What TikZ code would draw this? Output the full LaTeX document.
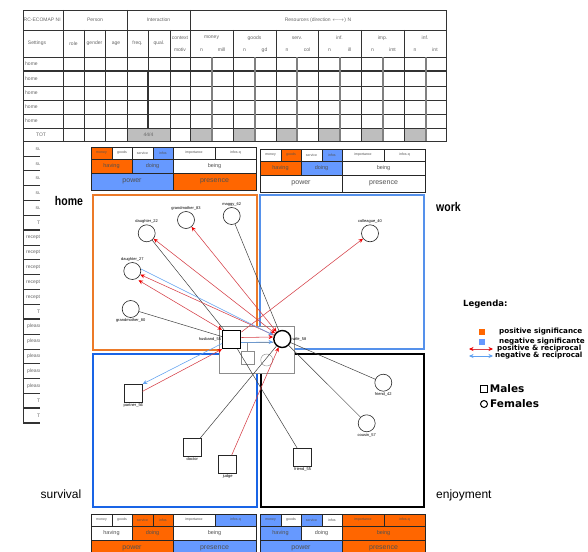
\documentclass[tikz,border=0pt]{standalone}
\usepackage{fontspec}
\usepackage{graphicx}
\setmainfont{Liberation Sans}
\newfontfamily\legendfont{DejaVu Sans}
\usetikzlibrary{arrows.meta,positioning}

\definecolor{sigorange}{RGB}{255,102,0}
\definecolor{sigblue}{RGB}{102,153,255}
\definecolor{homeorange}{RGB}{236,122,40}
\definecolor{workblue}{RGB}{85,145,235}
\definecolor{survblue}{RGB}{25,100,230}
\definecolor{relred}{RGB}{214,64,72}
\definecolor{tipred}{RGB}{240,0,0}
\definecolor{relblue}{RGB}{95,160,240}
\definecolor{totgray}{RGB}{190,190,190}
\definecolor{celltext}{RGB}{80,80,80}

\tikzset{
  tabline/.style={draw=black!80, line width=0.5pt},
  tabtxt/.style={font=\fontsize{5}{5}\selectfont, text=black!60, inner sep=0pt},
  boxline/.style={draw=black!85, line width=1pt},
  celltxt/.style={font=\fontsize{3.5}{4}\selectfont, text=celltext, inner sep=0pt},
  celltxtb/.style={font=\fontsize{5.5}{6}\selectfont, text=celltext, inner sep=0pt},
  celltxtc/.style={font=\fontsize{7}{7}\selectfont, text=celltext, inner sep=0pt},
  female/.style={circle, draw=black!85, line width=0.6pt, minimum size=17pt, inner sep=0pt},
  male/.style={rectangle, draw=black!85, line width=0.6pt, minimum size=18pt, inner sep=0pt},
  ego/.style={line width=1.4pt, draw=black},
  who/.style={font=\fontsize{4}{4}\selectfont, inner sep=0.8pt},
  plaintie/.style={draw=black!75, line width=0.5pt},
  posrel/.style={draw=relred, line width=0.55pt, -{Stealth[length=4.5pt,width=4pt,color=tipred]}},
  posboth/.style={draw=relred, line width=0.55pt, {Stealth[length=4.5pt,width=4pt,color=tipred]}-{Stealth[length=4.5pt,width=4pt,color=tipred]}},
  negrel/.style={draw=relblue, line width=0.55pt, -{Stealth[length=4.5pt,width=4pt,color=relblue]}},
  negboth/.style={draw=relblue, line width=0.55pt, {Stealth[length=4.5pt,width=4pt,color=relblue]}-{Stealth[length=4.5pt,width=4pt,color=relblue]}},
  legtxt/.style={font=\legendfont\bfseries\fontsize{7.2}{7.5}\selectfont, inner sep=0pt, anchor=west},
  legbig/.style={font=\legendfont\bfseries\fontsize{10.5}{11}\selectfont, inner sep=0pt, anchor=west},
}

% resource box: origin, fills of row 1, row 2, row 3
\newcommand{\sigbox}[4]{%
  \begin{scope}[shift={#1}]
    \foreach \fc [count=\i] in {#2} {
      \pgfmathsetmacro{\xa}{{0,21,41,62,82,124}[\i-1]}
      \pgfmathsetmacro{\xb}{{21,41,62,82,124,165}[\i-1]}
      \fill[\fc] (\xa,0) rectangle (\xb,12);
    }
    \foreach \fc [count=\i] in {#3} {
      \pgfmathsetmacro{\xa}{{0,41,82}[\i-1]}
      \pgfmathsetmacro{\xb}{{41,82,165}[\i-1]}
      \fill[\fc] (\xa,12) rectangle (\xb,26);
    }
    \foreach \fc [count=\i] in {#4} {
      \pgfmathsetmacro{\xa}{{0,82}[\i-1]}
      \pgfmathsetmacro{\xb}{{82,165}[\i-1]}
      \fill[\fc] (\xa,26) rectangle (\xb,43);
    }
    \foreach \xa/\xb/\txt in {0/21/money, 21/41/goods, 41/62/service, 62/82/infos, 82/124/importance, 124/165/infos-q}
      \node[celltxt] at ({(\xa+\xb)/2},6) {\txt};
    \node[celltxtb] at (20.5,19) {having};
    \node[celltxtb] at (61.5,19) {doing};
    \node[celltxtb] at (123.5,19) {being};
    \node[celltxtc] at (41,34.5) {power};
    \node[celltxtc] at (123.5,34.5) {presence};
    \draw[boxline] (0,0) rectangle (165,43);
    \draw[boxline] (0,12) -- (165,12) (0,26) -- (165,26);
    \foreach \x in {21,41,62,82,124} \draw[boxline] (\x,0) -- (\x,12);
    \draw[boxline] (41,12) -- (41,26) (82,12) -- (82,43);
  \end{scope}
}

\begin{document}
\begin{tikzpicture}[x=1pt,y=-1pt]
  \useasboundingbox (0,0) rectangle (588,551);

  % table behind the map
  \fill[totgray] (127,128) rectangle (170,141);
  \foreach \xa in {190,233,276,318,361,404} \fill[totgray] (\xa,128) rectangle ({\xa+21.5},141);
  \foreach \y in {30,57,86,100,114,128} \draw[tabline] (23,\y) -- (446,\y);
  \draw[tabline, line width=1.3pt] (23,71) -- (446,71);
  \foreach \x in {63,127,190} \draw[tabline] (\x,10) -- (\x,141);
  \foreach \x in {84,105,170,233,276,318,361,404} \draw[tabline] (\x,30) -- (\x,141);
  \draw[tabline] (148,30) -- (148,71);
  \draw[tabline, line width=1.2pt] (148,71) -- (148,128);
  \foreach \x in {212,255,297,340,383,426} \draw[gray, line width=1.2pt] (\x,57) -- (\x,141);
  \draw[tabline, line width=0.9pt] (23,10) rectangle (446,141);
  \node[tabtxt, anchor=west] at (23.5,20) {RC-ECOMAP NI};
  \node[tabtxt] at (95,20) {Person};
  \node[tabtxt] at (158.5,20) {Interaction};
  \node[tabtxt] at (318,20) {Resources (direction $\leftarrow\!\rightarrow$) N};
  \foreach \x/\txt in {37/Settings, 73.5/role, 94.5/gender, 116/age, 137.5/freq., 159/qual.}
    \node[tabtxt] at (\x,43.5) {\txt};
  \node[tabtxt] at (180,38) {context};
  \node[tabtxt] at (180,50) {motiv};
  \foreach \x/\txt/\sub in {211.5/money/mill, 254.5/goods/gd, 297/serv./col, 339.5/inf./ill, 382.5/imp./imt, 425/inf./int} {
    \node[tabtxt] at (\x,38) {\txt};
    \node[tabtxt] at ({\x-10},50) {n};
    \node[tabtxt] at ({\x+10},50) {\sub};
  }
  \foreach \y in {64,78.5,93,107,121} \node[tabtxt, anchor=west] at (25,\y) {home};
  \node[tabtxt] at (41,134.5) {TOT};
  \node[tabtxt] at (148.5,134.5) {44/4};
  % first column running on below
  \foreach \k in {1,...,19} \draw[tabline] (23,{141+14.84*\k}) -- (63,{141+14.84*\k});
  \foreach \k in {6,12,18,19} \draw[tabline, line width=1.3pt] (23,{141+14.84*\k}) -- (63,{141+14.84*\k});
  \draw[tabline, line width=0.9pt] (23,141) -- (23,423);
  \foreach \k in {1,...,5} \node[tabtxt, anchor=west] at (35.5,{133.6+14.84*\k}) {survival};
  \foreach \k in {7,...,11} \node[tabtxt, anchor=west] at (26,{133.6+14.84*\k}) {reception};
  \foreach \k in {13,...,17} \node[tabtxt, anchor=west] at (27,{133.6+14.84*\k}) {pleasure};
  \foreach \k in {6,12,18,19} \node[tabtxt, anchor=west] at (37,{133.6+14.84*\k}) {TOT};

  % the map pasted over it
  \fill[white] (39.5,141.7) rectangle (590,553);

  \sigbox{(91,147)}{sigorange,white,white,sigblue,white,white}{sigorange,sigblue,white}{sigblue,sigorange}
  \sigbox{(260,149)}{white,sigorange,white,sigblue,white,white}{sigorange,sigblue,white}{white,white}
  \sigbox{(91,514)}{white,white,sigorange,sigorange,white,sigblue}{white,sigorange,white}{sigorange,sigblue}
  \sigbox{(260,514)}{sigblue,white,sigblue,white,sigorange,sigorange}{sigblue,white,sigorange}{sigblue,sigorange}

  \draw[homeorange, line width=2.6pt] (93,195) rectangle (257,350);
  \draw[workblue, line width=2.6pt] (260,195) rectangle (424,349);
  \draw[survblue, line width=2.6pt] (93,354) rectangle (257,507);
  \draw[black, line width=2.6pt] (261,354) rectangle (424,507);

  \node[font=\bfseries\fontsize{10.5}{11}\selectfont, inner sep=0pt] (homelbl) at (69,201) {\scalebox{1}[1.2]{home}};
  \node[font=\bfseries\fontsize{10.5}{11}\selectfont, inner sep=0pt, anchor=west] (worklbl) at (436,207) {\scalebox{1}[1.2]{work}};
  \node[font=\fontsize{12}{12}\selectfont, inner sep=0pt] (survlbl) at (61,494) {survival};
  \node[font=\fontsize{12}{12}\selectfont, inner sep=0pt, anchor=west] (enjlbl) at (436,495) {enjoyment};

  % household box
  \filldraw[fill=white, draw=black!45, line width=0.4pt] (219,326) rectangle (294,373);
  \node[male, draw=black!45, line width=0.4pt, minimum size=13pt] (child) at (247.5,357.5) {};
  \node[female, draw=black!45, line width=0.4pt, minimum size=12pt] (childb) at (266.7,360) {};
  \coordinate (famjoint) at (247.5,342);

  % people
  \node[female, label={[who]above:grandmother\_83}] (g83) at (186,220) {};
  \node[female, label={[who]above:maggy\_62}] (maggy) at (231.7,216) {};
  \node[female, label={[who]above:daughter\_22}] (d22) at (146.7,233.3) {};
  \node[female, label={[who]above:daughter\_27}] (d27) at (132.3,271) {};
  \node[female, label={[who]below:grandmother\_80}] (g80) at (130.7,309) {};
  \node[male, ego, label={[who]left:husband\_55}] (husband) at (231.7,339.5) {};
  \node[female, ego, label={[who]right:wife\_58}] (wife) at (282.3,339) {};
  \node[female, label={[who]above:colleague\_40}] (colleague) at (370,233.3) {};
  \node[male, label={[who]below:partner\_56}] (partner) at (133.3,393.3) {};
  \node[male, label={[who]below:doctor}] (doctor) at (192.3,447.7) {};
  \node[male, label={[who]below:judge}] (judge) at (227.7,464.3) {};
  \node[female, label={[who]below:friend\_42}] (friend42) at (383.3,382.7) {};
  \node[female, label={[who]below:cousin\_57}] (cousin) at (366.7,423.3) {};
  \node[male, label={[who]below:friend\_55}] (friend55) at (302.7,457.3) {};

  \draw[draw=black!45, line width=0.4pt] (husband.east |- famjoint) -- (wife.west |- famjoint);
  \draw[draw=black!45, line width=0.4pt] (famjoint) -- (child.north);

  % ties
  \draw[plaintie] (d22) -- (husband);
  \draw[plaintie] (maggy) -- (wife);
  \draw[plaintie] (g80) -- (husband);
  \draw[plaintie] (doctor) -- (wife);
  \draw[plaintie] (husband) -- (friend55);
  \draw[plaintie] (wife) -- (friend42);
  \draw[plaintie] (wife) -- (cousin);
  \draw[posboth] (g83) -- (wife);
  \draw[posboth] (d22) -- (wife);
  \draw[posboth] (d27) -- (wife);
  \draw[posboth] ([yshift=-3pt]d27.south east) -- (husband.north west);
  \draw[posrel] (husband) -- (colleague);
  \draw[posrel] ([yshift=2pt]partner.east) -- (husband.south west);
  \draw[posrel] (judge) -- (wife);
  \draw[posrel] ([yshift=2pt]husband.east) -- ([yshift=2pt]wife.west);
  \draw[negrel] ([yshift=2pt]d27.east) -- ([yshift=4pt]wife.west);
  \draw[negrel] ([yshift=-4pt]husband.west) -- (partner.north east);
  \draw[negrel] ([yshift=-3pt]husband.east) -- ([yshift=-3pt]wife.west);

  % legend
  \node[font=\legendfont\bfseries\fontsize{8.5}{9}\selectfont, inner sep=0pt, anchor=west] (legtitle) at (463,304) {Legenda:};
  \node[fill=sigorange, minimum size=6pt, inner sep=0pt] (keypos) at (482,332) {};
  \node[legtxt] at (499,332) {positive significance};
  \node[fill=sigblue, minimum size=6pt, inner sep=0pt] (keyneg) at (482,342) {};
  \node[legtxt] at (499,342) {negative significante};
  \coordinate (keyra) at (469,349);
  \coordinate (keyrb) at (493,349);
  \draw[posboth] (keyra) -- (keyrb);
  \node[legtxt] at (497,349) {positive \& reciprocal};
  \coordinate (keyba) at (469,356);
  \coordinate (keybb) at (493,356);
  \draw[negboth] (keyba) -- (keybb);
  \node[legtxt] at (495,356) {negative \& reciprocal};
  \node[draw, line width=1pt, minimum size=6.5pt, inner sep=0pt] (keymale) at (484,389) {};
  \node[legbig, right=2pt of keymale] {Males};
  \node[circle, draw, line width=1pt, minimum size=7pt, inner sep=0pt] (keyfemale) at (484,404) {};
  \node[legbig, right=2pt of keyfemale] {Females};
\end{tikzpicture}
\end{document}
